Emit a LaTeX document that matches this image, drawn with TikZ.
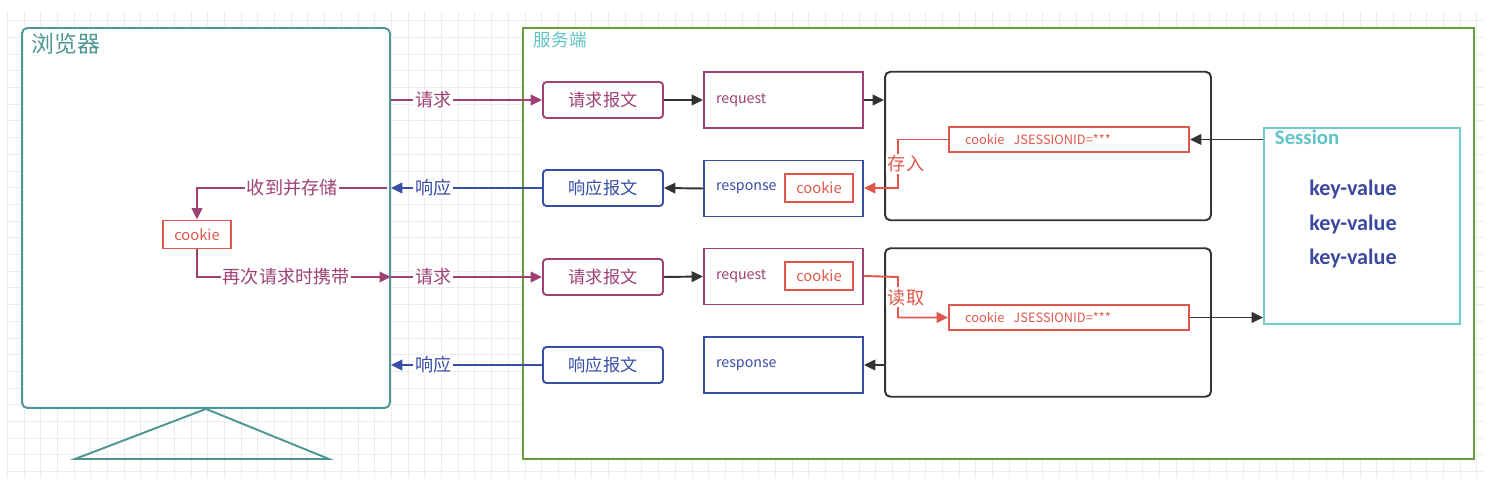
\documentclass[tikz,border=0pt]{standalone}
\usepackage{fontspec}
\setmainfont{Noto Sans CJK SC}
\newfontfamily\kvfont{Carlito}
\usepackage{xcolor}
\usetikzlibrary{arrows.meta,positioning,calc}

\definecolor{reqc}{RGB}{158,66,118}
\definecolor{respc}{RGB}{58,78,166}
\definecolor{ckc}{RGB}{224,88,76}
\definecolor{brwc}{RGB}{78,150,150}
\definecolor{srvc}{RGB}{106,155,62}
\definecolor{sessc}{RGB}{110,205,205}
\definecolor{titlec}{RGB}{95,195,200}
\definecolor{kvc}{RGB}{60,72,160}
\definecolor{darkc}{RGB}{51,51,51}
\definecolor{gridc}{RGB}{236,236,236}

\begin{document}
\begin{tikzpicture}[x=0.02cm,y=-0.02cm,line width=1.1pt,
  tip/.style={-{Triangle[length=6.5pt,width=6pt]}},
  msgbox/.style={draw,rounded corners=2pt,minimum width=2.4cm,minimum height=0.72cm,inner sep=0pt,font=\fontsize{9.8}{11}\selectfont},
  objbox/.style={draw,minimum height=1.12cm,text width=2.7cm,inner xsep=0.24cm,inner ysep=0pt,align=left,font=\fontsize{8.1}{9}\selectfont},
  ckbox/.style={draw=ckc,text=ckc,minimum width=1.36cm,minimum height=0.56cm,inner sep=0pt,font=\fontsize{8.4}{9}\selectfont},
  jidbox/.style={draw=ckc,text=ckc,minimum height=0.5cm,text width=4.16cm,inner xsep=0.32cm,inner ysep=0pt,align=left,font=\fontsize{7.3}{9}\selectfont},
  procbox/.style={draw=darkc,rounded corners=3pt,minimum width=6.52cm,minimum height=2.97cm,inner sep=0pt},
  lbl/.style={fill=white,inner sep=1pt,font=\fontsize{10.3}{11}\selectfont},
  kv/.style={text=kvc,font=\kvfont\bfseries\fontsize{12.6}{13}\selectfont}]

% background grid
\useasboundingbox (0,0) rectangle (1492,482);
\begin{scope}[line width=0.5pt,gridc]
\foreach \i in {0,...,88} \draw (7.3+16.7*\i,12) -- (7.3+16.7*\i,478);
\foreach \j in {0,...,27} \draw (8,20.7+16.7*\j) -- (1484,20.7+16.7*\j);
\end{scope}

% browser
\node[draw=brwc,fill=white,rounded corners=3pt,minimum width=7.36cm,minimum height=7.6cm] (brw) at (206,218) {};
\node[anchor=north west,text=brwc,inner sep=0pt,font=\fontsize{13}{14}\selectfont] (brwt) at (31,32) {浏览器};
\draw[brwc] (brw.south) -- (75,459) -- (329,459) -- cycle;
\node[ckbox,fill=white] (ck) at (197,234.5) {cookie};

% server
\node[draw=srvc,fill=white,minimum width=19.02cm,minimum height=8.62cm] (srv) at (998.5,243.5) {};
\node[anchor=north west,text=titlec,inner sep=0pt,font=\fontsize{10}{11}\selectfont] (srvt) at (533,31) {服务端};

\node[msgbox,draw=reqc,text=reqc] (req1) at (603,100) {请求报文};
\node[msgbox,draw=respc,text=respc] (resp1) at (603,188) {响应报文};
\node[msgbox,draw=reqc,text=reqc] (req2) at (603,277) {请求报文};
\node[msgbox,draw=respc,text=respc] (resp2) at (603,365) {响应报文};

\node[objbox,draw=reqc,text=reqc] (rq1) at (783.5,100) {request};
\node[objbox,draw=respc,text=respc] (rs1) at (783.5,188.5) {response};
\node[objbox,draw=reqc,text=reqc] (rq2) at (783.5,276.5) {request};
\node[objbox,draw=respc,text=respc] (rs2) at (783.5,365) {response};
\node[ckbox] (ck1) at (819,188) {cookie};
\node[ckbox] (ck2) at (819,276) {cookie};

\node[procbox] (blk1) at (1048,146) {};
\node[procbox] (blk2) at (1048,322.5) {};
\node[jidbox] (jid1) at (1069,139.5) {cookie\hspace{0.7em}JSESSIONID=***};
\node[jidbox] (jid2) at (1069,317.5) {cookie\hspace{0.7em}JSESSIONID=***};

\node[draw=sessc,minimum width=3.92cm,minimum height=3.92cm] (sess) at (1362,226) {};
\node[anchor=north west,text=titlec,inner sep=0pt,font=\kvfont\bfseries\fontsize{11.8}{12}\selectfont] (sesst) at (1274,129) {Session};
\node[kv] (kv1) at (1353,189) {key-value};
\node[kv] (kv2) at (1353,224) {key-value};
\node[kv] (kv3) at (1353,258) {key-value};

% browser <-> server
\draw[reqc,tip] (brw.east |- req1) -- node[lbl,text=reqc,pos=0.28]{请求} (req1.west);
\draw[respc,tip] (resp1.west) -- node[lbl,text=respc,pos=0.72]{响应} (resp1.west -| brw.east);
\draw[reqc,tip] (brw.east |- req2) -- node[lbl,text=reqc,pos=0.28]{请求} (req2.west);
\draw[respc,tip] (resp2.west) -- node[lbl,text=respc,pos=0.72]{响应} (resp2.west -| brw.east);

% inside browser
\draw[reqc,tip] ([xshift=-2pt]brw.east |- resp1) -| node[lbl,text=reqc,pos=0.25]{收到并存储} (ck.north);
\draw[reqc,tip] (ck.south) |- node[lbl,text=reqc,pos=0.73]{再次请求时携带} (brw.east |- req2);

% inside server
\draw[darkc,tip] (req1.east) -- (rq1.west);
\draw[darkc,tip] (rq1.east) -- (rq1.east -| blk1.west);
\draw[darkc,tip] (rs1.west) -- (resp1.east);
\draw[darkc,tip] (req2.east) -- (rq2.west);
\draw[darkc,tip] (blk2.west |- rs2) -- (rs2.east);
\draw[darkc,tip] (sess.west |- jid1) -- (jid1.east);
\draw[darkc,tip] (jid2.east) -- (jid2.east -| sess.west);

\coordinate (bend1) at (898,139.5);
\coordinate (bend2) at (898,277);
\draw[ckc,tip] (jid1.west) -- (bend1) |- node[lbl,text=ckc,pos=0.25,xshift=0.16cm]{存入} (rs1.east |- ck1);
\draw[ckc,tip] (rq2.east |- ck2) -- (bend2) |- node[lbl,text=ckc,pos=0.25,xshift=0.16cm]{读取} (jid2.west);
\end{tikzpicture}
\end{document}
